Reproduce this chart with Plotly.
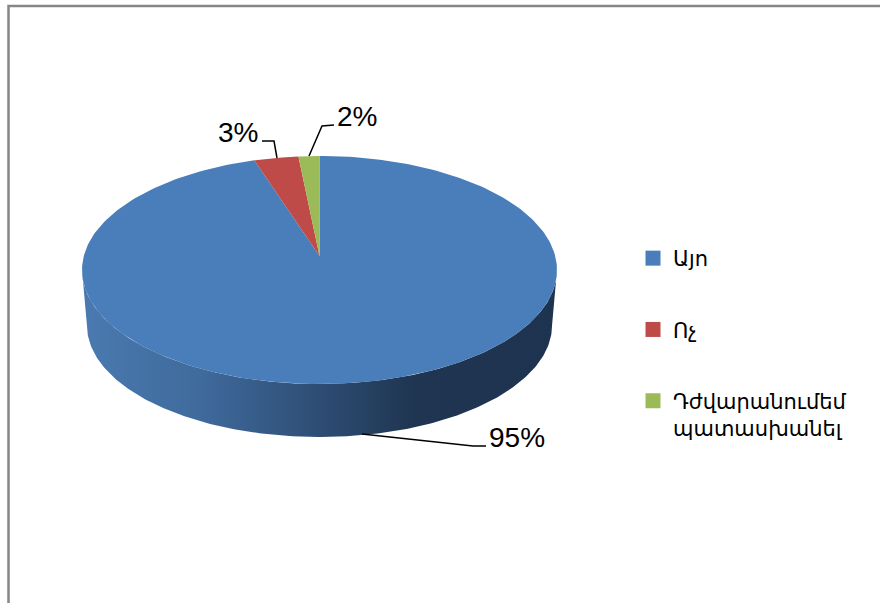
import numpy as np
import plotly.graph_objects as go

categories = ["Այո", "Ոչ", "Դժվարանումեմ<br>պատասխանել"]
values = [95.0, 3.4, 1.6]
top_colors = ["#4A7EBB", "#BE4B48", "#9BBB59"]
percent_labels = [f"{round(v)}%" for v in values]

# Perspective disc geometry, in page pixels
CX, P = 319.5, 0.1228
TOP = dict(y0=256.0, A=235.7, R=112.3)
BASE = dict(y0=311.6, A=230.8, R=110.0)


def disc(theta, d):
    u, v = np.sin(theta), np.cos(theta)
    k = 1 + P * v
    return CX + d["A"] * u / k, d["y0"] - d["R"] * v / k


fig = go.Figure()

# Side wall: visible lower half, between the silhouette points
t0 = np.arccos(-P)
front = np.linspace(t0, 2 * np.pi - t0, 240)
xt, yt = disc(front, TOP)
xb, yb = disc(front[::-1], BASE)
fig.add_trace(go.Scatter(
    x=np.r_[xt, xb], y=np.r_[yt, yb], mode="lines", fill="toself",
    line=dict(width=0), hoverinfo="skip", showlegend=False,
    fillgradient=dict(type="horizontal", colorscale=[
        [0.0, "#4A7AB0"], [0.25, "#3F6A9C"], [0.50, "#2E4D74"],
        [0.70, "#1F3551"], [1.0, "#1D3350"]]),
))

# Top face slices, clockwise from twelve o'clock
edges = np.cumsum([0] + values) / sum(values) * 2 * np.pi
for i, color in enumerate(top_colors):
    th = np.linspace(edges[i], edges[i + 1], 300)
    x, y = disc(th, TOP)
    fig.add_trace(go.Scatter(
        x=np.r_[CX, x, CX], y=np.r_[TOP["y0"], y, TOP["y0"]],
        mode="lines", fill="toself", fillcolor=color, line=dict(width=0),
        hoverinfo="skip", showlegend=False,
    ))

# Legend entries
for name, color in zip(categories, top_colors):
    fig.add_trace(go.Scatter(
        x=[None], y=[None], mode="markers", name=name, legendgroup=name,
        marker=dict(symbol="square", size=15, color=color),
    ))

# Leader lines
leaders = [
    ([362, 473, 486], [434, 446, 446]),
    ([262, 274, 277], [141, 141, 158]),
    ([334, 322, 309], [125, 126, 156]),
]
for lx, ly in leaders:
    fig.add_trace(go.Scatter(x=lx, y=ly, mode="lines", hoverinfo="skip",
                             line=dict(color="black", width=1.5), showlegend=False))

label_pos = [(517, 437), (238, 132), (357, 116)]
for text, (lx, ly) in zip(percent_labels, label_pos):
    fig.add_annotation(x=lx, y=ly, text=text, showarrow=False,
                       font=dict(family="Liberation Sans", size=28, color="black"))

fig.update_layout(
    width=880, height=603, margin=dict(l=0, r=0, t=0, b=0, pad=0),
    paper_bgcolor="white", plot_bgcolor="white",
    xaxis=dict(range=[0, 880], visible=False, fixedrange=True),
    yaxis=dict(range=[603, 0], visible=False, fixedrange=True),
    legend=dict(x=633 / 880, y=1 - 238 / 603, xanchor="left", yanchor="top",
                font=dict(family="DejaVu Sans", size=21, color="black"),
                tracegroupgap=41, itemwidth=30, valign="top", bgcolor="rgba(0,0,0,0)"),
    shapes=[dict(type="path", path="M 8.5 610 L 8.5 6 L 890 6",
                 line=dict(color="#868686", width=2.5))],
)
fig.write_html("out.html", config=dict(displayModeBar=False),
               post_script="document.body.style.margin='0';document.documentElement.style.overflow='hidden';")
